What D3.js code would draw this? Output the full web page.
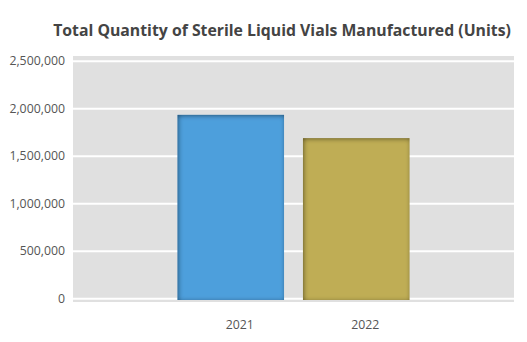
<!DOCTYPE html>
<html>
<head>
<meta charset="utf-8">
<script src="https://cdn.jsdelivr.net/npm/d3@7"></script>
<style>
  html, body { margin: 0; padding: 0; background: #fff; }
  svg { display: block; }
  text { font-family: "Open Sans", "DejaVu Sans", sans-serif; }
</style>
</head>
<body>
<svg id="chart" width="527" height="342"></svg>
<script>
// Chart data
const years = ["2021", "2022"];
const quantities = [1930000, 1685000];
const barColors = ["#4d9fdc", "#bfad55"];
const yTicks = [0, 500000, 1000000, 1500000, 2000000, 2500000];
const title = "Total Quantity of Sterile Liquid Vials Manufactured (Units)";

const svg = d3.select("#chart");
const plot = { left: 73, right: 514, top: 56, bottom: 302 };

const y = d3.scaleLinear().domain([0, 2500000]).range([298.3, 60.7]);
const x = d3.scaleBand().domain(years).range([plot.left, plot.right])
  .paddingInner(0.151).paddingOuter(0.833);

// Inner shadow filter for the bars
const defs = svg.append("defs");
const f = defs.append("filter").attr("id", "inner")
  .attr("x", "-5%").attr("y", "-5%").attr("width", "110%").attr("height", "110%");
f.append("feComponentTransfer").attr("in", "SourceAlpha").attr("result", "inv")
  .append("feFuncA").attr("type", "table").attr("tableValues", "1 0");
f.append("feGaussianBlur").attr("in", "inv").attr("stdDeviation", 2.6).attr("result", "blur");
f.append("feOffset").attr("dx", 0.5).attr("dy", 0.5).attr("result", "off");
f.append("feComposite").attr("in", "off").attr("in2", "SourceAlpha").attr("operator", "in").attr("result", "shadow");
f.append("feComponentTransfer").attr("in", "shadow").attr("result", "shadowA")
  .append("feFuncA").attr("type", "linear").attr("slope", 0.85);
const fm = f.append("feMerge");
fm.append("feMergeNode").attr("in", "SourceGraphic");
fm.append("feMergeNode").attr("in", "shadowA");

// Title
svg.append("text")
  .attr("x", 282).attr("y", 36)
  .attr("text-anchor", "middle")
  .attr("font-size", 15.8).attr("font-weight", "bold")
  .attr("fill", "#444")
  .text(title);

// Plot background
svg.append("rect")
  .attr("x", plot.left).attr("y", plot.top)
  .attr("width", plot.right - plot.left).attr("height", plot.bottom - plot.top)
  .attr("fill", "#e0e0e0");

// Grid lines and y tick labels
const yAxis = d3.axisLeft(y).tickValues(yTicks)
  .tickSize(-(plot.right - plot.left)).tickPadding(8)
  .tickFormat(d3.format(","));
const gy = svg.append("g").attr("transform", `translate(${plot.left},0)`).call(yAxis);
gy.select(".domain").remove();
gy.selectAll(".tick line").attr("stroke", "#fff").attr("stroke-width", 2);
gy.selectAll(".tick text").attr("fill", "#555").attr("font-size", 12.3);

// Bars
svg.append("g").selectAll("rect")
  .data(years)
  .join("rect")
  .attr("x", d => x(d))
  .attr("y", (d, i) => y(quantities[i]))
  .attr("width", x.bandwidth())
  .attr("height", (d, i) => 300 - y(quantities[i]))
  .attr("fill", (d, i) => barColors[i])
  .attr("filter", "url(#inner)");

// X axis labels
const xAxis = d3.axisBottom(x).tickSize(0).tickPadding(0);
const gx = svg.append("g").attr("transform", `translate(9,320)`).call(xAxis);
gx.select(".domain").remove();
gx.selectAll(".tick text").attr("fill", "#555").attr("font-size", 12.3);
</script>
</body>
</html>
